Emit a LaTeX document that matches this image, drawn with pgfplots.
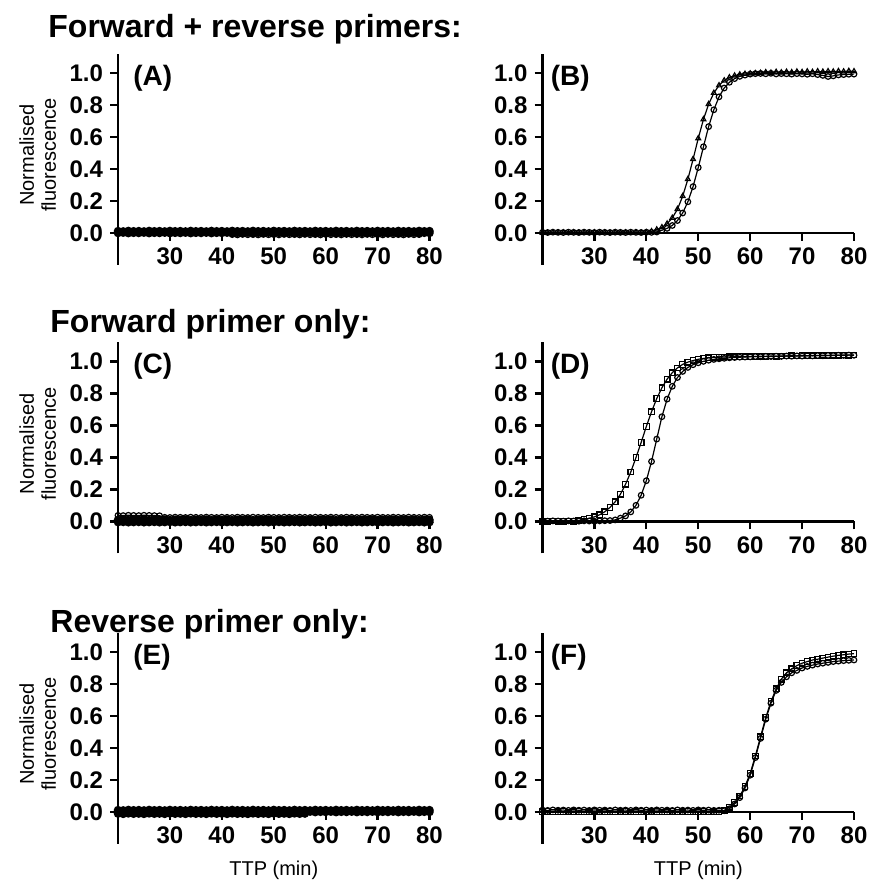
\documentclass[border=0pt]{standalone}
\usepackage{pgfplots}
\pgfplotsset{compat=1.18}
\usepackage{pgfplotstable}
\usepackage{fontspec}
\setmainfont{Liberation Sans}

% Panel A: no amplification (replicates)
\pgfplotstableread{
x a1 a2
20 0.012 0.000
21 0.010 0.002
22 0.013 -0.001
23 0.011 0.001
24 0.012 0.000
25 0.010 0.002
26 0.013 -0.001
27 0.011 0.001
28 0.012 0.000
29 0.010 0.002
30 0.013 -0.001
31 0.011 0.001
32 0.012 0.000
33 0.010 0.002
34 0.013 -0.001
35 0.011 0.001
36 0.012 0.000
37 0.010 0.002
38 0.013 -0.001
39 0.011 0.001
40 0.012 0.000
41 0.010 0.002
42 0.013 -0.001
43 0.011 0.001
44 0.012 0.000
45 0.010 0.002
46 0.013 -0.001
47 0.011 0.001
48 0.012 0.000
49 0.010 0.002
50 0.013 -0.001
51 0.011 0.001
52 0.012 0.000
53 0.010 0.002
54 0.013 -0.001
55 0.011 0.001
56 0.012 0.000
57 0.010 0.002
58 0.013 -0.001
59 0.011 0.001
60 0.012 0.000
61 0.010 0.002
62 0.013 -0.001
63 0.011 0.001
64 0.012 0.000
65 0.010 0.002
66 0.013 -0.001
67 0.011 0.001
68 0.012 0.000
69 0.010 0.002
70 0.013 -0.001
71 0.011 0.001
72 0.012 0.000
73 0.010 0.002
74 0.013 -0.001
75 0.011 0.001
76 0.012 0.000
77 0.010 0.002
78 0.013 -0.001
79 0.011 0.001
80 0.012 0.000
}\tabA

% Panel C
\pgfplotstableread{
x c1 c2 c3
20 0.038 0.010 -0.004
21 0.037 0.012 -0.003
22 0.039 0.009 -0.005
23 0.038 0.011 -0.004
24 0.037 0.010 -0.003
25 0.039 0.012 -0.005
26 0.038 0.009 -0.004
27 0.037 0.011 -0.003
28 0.036 0.010 -0.005
29 0.026 0.012 -0.004
30 0.025 0.009 -0.003
31 0.027 0.011 -0.005
32 0.026 0.010 -0.004
33 0.025 0.012 -0.003
34 0.027 0.009 -0.005
35 0.026 0.011 -0.004
36 0.025 0.010 -0.003
37 0.027 0.012 -0.005
38 0.026 0.009 -0.004
39 0.025 0.011 -0.003
40 0.027 0.010 -0.005
41 0.026 0.012 -0.004
42 0.025 0.009 -0.003
43 0.027 0.011 -0.005
44 0.026 0.010 -0.004
45 0.025 0.012 -0.003
46 0.027 0.009 -0.005
47 0.026 0.011 -0.004
48 0.025 0.010 -0.003
49 0.027 0.012 -0.005
50 0.026 0.009 -0.004
51 0.025 0.011 -0.003
52 0.027 0.010 -0.005
53 0.026 0.012 -0.004
54 0.025 0.009 -0.003
55 0.027 0.011 -0.005
56 0.026 0.010 -0.004
57 0.025 0.012 -0.003
58 0.027 0.009 -0.005
59 0.026 0.011 -0.004
60 0.025 0.010 -0.003
61 0.027 0.012 -0.005
62 0.026 0.009 -0.004
63 0.025 0.011 -0.003
64 0.027 0.010 -0.005
65 0.026 0.012 -0.004
66 0.025 0.009 -0.003
67 0.027 0.011 -0.005
68 0.026 0.010 -0.004
69 0.025 0.012 -0.003
70 0.027 0.009 -0.005
71 0.026 0.011 -0.004
72 0.025 0.010 -0.003
73 0.027 0.012 -0.005
74 0.026 0.009 -0.004
75 0.025 0.011 -0.003
76 0.027 0.010 -0.005
77 0.026 0.012 -0.004
78 0.025 0.009 -0.003
79 0.027 0.011 -0.005
80 0.026 0.010 -0.004
}\tabC

% Panel B
\pgfplotstableread{
x b1 b2
20 0.002 0.004
21 0.000 0.003
22 0.003 0.005
23 0.001 0.004
24 0.002 0.003
25 0.000 0.005
26 0.003 0.004
27 0.001 0.003
28 0.002 0.005
29 0.000 0.004
30 0.003 0.003
31 0.001 0.005
32 0.002 0.004
33 0.000 0.003
34 0.003 0.005
35 0.001 0.004
36 0.002 0.003
37 0.000 0.005
38 0.003 0.004
39 0.001 0.003
40 0.004 0.005
41 0.010 0.004
42 0.021 0.006
43 0.035 0.017
44 0.058 0.029
45 0.094 0.047
46 0.149 0.078
47 0.230 0.125
48 0.336 0.195
49 0.461 0.290
50 0.591 0.409
51 0.710 0.539
52 0.805 0.665
53 0.875 0.770
54 0.922 0.851
55 0.953 0.906
56 0.972 0.942
57 0.983 0.965
58 0.990 0.979
59 0.994 0.987
60 0.996 0.993
61 0.998 0.996
62 1.000 0.997
63 1.004 0.995
64 1.001 0.998
65 1.006 0.994
66 1.003 0.996
67 1.007 0.995
68 1.004 0.993
69 1.008 0.996
70 1.005 0.994
71 1.009 0.992
72 1.006 0.995
73 1.010 0.990
74 1.007 0.985
75 1.010 0.978
76 1.008 0.982
77 1.011 0.988
78 1.009 0.990
79 1.012 0.992
80 1.010 0.993
}\tabB

% Panel D
\pgfplotstableread{
x d1 d2
20 0.002 0.003
21 0.001 0.002
22 0.003 0.004
23 0.002 0.003
24 0.001 0.002
25 0.003 0.004
26 0.002 0.003
27 0.004 0.002
28 0.013 0.004
29 0.020 0.003
30 0.029 0.002
31 0.042 0.004
32 0.061 0.005
33 0.088 0.006
34 0.123 0.010
35 0.170 0.021
36 0.233 0.035
37 0.309 0.060
38 0.399 0.101
39 0.494 0.164
40 0.594 0.255
41 0.686 0.375
42 0.768 0.515
43 0.836 0.655
44 0.890 0.765
45 0.930 0.845
46 0.960 0.900
47 0.982 0.938
48 0.996 0.963
49 1.006 0.980
50 1.014 0.992
51 1.019 1.001
52 1.023 1.008
53 1.025 1.013
54 1.027 1.017
55 1.028 1.020
56 1.029 1.023
57 1.030 1.025
58 1.031 1.027
59 1.030 1.028
60 1.032 1.029
61 1.031 1.031
62 1.033 1.030
63 1.032 1.032
64 1.034 1.031
65 1.033 1.033
66 1.035 1.032
67 1.034 1.034
68 1.036 1.033
69 1.035 1.035
70 1.037 1.034
71 1.036 1.036
72 1.038 1.035
73 1.037 1.037
74 1.039 1.036
75 1.038 1.038
76 1.040 1.037
77 1.039 1.039
78 1.041 1.038
79 1.040 1.040
80 1.041 1.039
}\tabD

% Panel F
\pgfplotstableread{
x f1 f2
20 0.001 0.012
21 0.002 0.010
22 0.000 0.013
23 0.001 0.011
24 0.002 0.012
25 0.000 0.010
26 0.001 0.013
27 0.002 0.011
28 0.000 0.012
29 0.001 0.010
30 0.002 0.013
31 0.000 0.011
32 0.001 0.012
33 0.002 0.010
34 0.000 0.013
35 0.001 0.011
36 0.002 0.012
37 0.000 0.010
38 0.001 0.013
39 0.002 0.011
40 0.000 0.012
41 0.001 0.010
42 0.002 0.013
43 0.000 0.011
44 0.001 0.012
45 0.002 0.010
46 0.000 0.013
47 0.001 0.011
48 0.002 0.012
49 0.000 0.010
50 0.001 0.013
51 0.002 0.011
52 0.000 0.012
53 0.001 0.010
54 0.003 0.011
55 0.010 0.008
56 0.030 0.020
57 0.060 0.050
58 0.100 0.090
59 0.160 0.150
60 0.240 0.230
61 0.350 0.340
62 0.470 0.460
63 0.590 0.580
64 0.690 0.680
65 0.770 0.760
66 0.830 0.810
67 0.870 0.845
68 0.895 0.870
69 0.915 0.885
70 0.930 0.900
71 0.940 0.910
72 0.950 0.918
73 0.955 0.925
74 0.962 0.930
75 0.968 0.935
76 0.974 0.940
77 0.979 0.943
78 0.983 0.946
79 0.987 0.948
80 0.990 0.950
}\tabF

\pgfplotsset{
  ser/.style={black, line width=0.6pt, mark size=1.4pt,
      mark options={solid, black, fill=white, line width=0.6pt}},
  base/.style={black, line width=1.2pt, mark=*, mark size=1.5pt,
      mark options={solid, black, fill=black}},
  panel/.style={
    scale only axis, width=155.75pt, height=105.6pt,
    xmin=20, xmax=80, ymin=-0.2, ymax=1.12,
    axis x line=middle, axis y line=left,
    axis line style={-, line width=1.1pt, black},
    tick align=outside,
    major tick length=4pt,
    tick style={line width=1.1pt, black},
    xtick={30,40,50,60,70,80}, ytick={0,0.2,0.4,0.6,0.8,1.0},
    minor tick num=0,
    /pgf/number format/assume math mode=true,
    ticklabel style={font=\bfseries\fontsize{12}{12}\selectfont},
    yticklabel style={/pgf/number format/.cd, fixed, fixed zerofill, precision=1},
    clip=false,
  },
  ylab/.style={
    ylabel={Normalised\\fluorescence},
    ylabel style={align=center, font=\fontsize{10}{11}\selectfont,
      at={(axis description cs:-0.258,0.52)}, anchor=center},
  },
  xlab/.style={
    xlabel={TTP (min)},
    xlabel style={font=\fontsize{10}{10}\selectfont,
      at={(axis description cs:0.5,0)}, anchor=center, yshift=-13pt},
  },
}
\newcommand{\plab}[2]{\node[anchor=west, inner sep=0pt, font=\bfseries\fontsize{14}{14}\selectfont] at (axis cs:20,1.0) [xshift=#2, yshift=-2.5pt] {#1};}

\begin{document}
\begin{tikzpicture}
\path[use as bounding box] (0,0) rectangle (440.5pt,442pt);

\node[anchor=base west, inner sep=0pt, font=\bfseries\fontsize{16}{16}\selectfont] at (24pt,423pt) {Forward + reverse primers:};
\node[anchor=base west, inner sep=0pt, font=\bfseries\fontsize{16}{16}\selectfont] at (25pt,275.5pt) {Forward primer only:};
\node[anchor=base west, inner sep=0pt, font=\bfseries\fontsize{16}{16}\selectfont] at (25pt,125.5pt) {Reverse primer only:};

% (A)
\begin{axis}[panel, ylab, at={(59pt,309.5pt)}, anchor=south west]
\addplot[base] table[x=x, y=a1] {\tabA};
\addplot[base] table[x=x, y=a2] {\tabA};
\addplot[ser, mark=o] coordinates {(42,-0.010)(43,-0.012)(44,-0.009)(45,-0.011)(46,-0.010)(47,-0.012)(48,-0.009)(49,-0.011)(50,-0.010)(51,-0.012)(52,-0.009)(53,-0.011)(54,-0.010)(55,-0.012)(56,-0.009)(57,-0.011)(58,-0.010)(59,-0.012)(60,-0.009)(61,-0.011)(62,-0.010)(63,-0.012)(64,-0.009)(65,-0.011)(66,-0.010)(67,-0.012)(68,-0.009)(69,-0.011)(70,-0.010)(71,-0.012)(72,-0.009)(73,-0.011)(74,-0.010)(75,-0.012)(76,-0.009)(77,-0.011)(78,-0.010)};
\plab{(A)}{7.5pt}
\end{axis}

% (B)
\begin{axis}[panel, at={(271.25pt,309.5pt)}, anchor=south west]
\addplot[ser, mark=triangle] table[x=x, y=b1] {\tabB};
\addplot[ser, mark=o] table[x=x, y=b2] {\tabB};
\plab{(B)}{4pt}
\end{axis}

% (C)
\begin{axis}[panel, ylab, at={(59pt,165.25pt)}, anchor=south west]
\addplot[ser, mark=o] table[x=x, y=c1] {\tabC};
\addplot[base] table[x=x, y=c2] {\tabC};
\addplot[base] table[x=x, y=c3] {\tabC};
\plab{(C)}{7.5pt}
\end{axis}

% (D)
\begin{axis}[panel, at={(271.25pt,165.25pt)}, anchor=south west]
\addplot[ser, mark=square] table[x=x, y=d1] {\tabD};
\addplot[ser, mark=o] table[x=x, y=d2] {\tabD};
\plab{(D)}{4pt}
\end{axis}

% (E)
\begin{axis}[panel, ylab, xlab, at={(59pt,20pt)}, anchor=south west]
\addplot[base] table[x=x, y=a1] {\tabA};
\addplot[base] table[x=x, y=a2] {\tabA};
\addplot[base] coordinates {(20,-0.010)(21,-0.012)(22,-0.009)(23,-0.011)(24,-0.010)(25,-0.012)(26,-0.009)(27,-0.011)(28,-0.010)(29,-0.012)(30,-0.009)(31,-0.011)(32,-0.010)(33,-0.012)(34,-0.009)(35,-0.011)(36,-0.010)(37,-0.012)(38,-0.009)(39,-0.011)(40,-0.010)(41,-0.012)(42,-0.009)(43,-0.011)(44,-0.010)(45,-0.012)(46,-0.009)(47,-0.011)(48,-0.010)(49,-0.012)(50,-0.009)(51,-0.011)(52,-0.010)(53,-0.012)(54,-0.009)(55,-0.011)(56,-0.010)};
\plab{(E)}{7.5pt}
\end{axis}

% (F)
\begin{axis}[panel, xlab, at={(271.25pt,20pt)}, anchor=south west]
\addplot[ser, mark=square] table[x=x, y=f1] {\tabF};
\addplot[ser, mark=o] table[x=x, y=f2] {\tabF};
\plab{(F)}{4pt}
\end{axis}
\end{tikzpicture}
\end{document}
